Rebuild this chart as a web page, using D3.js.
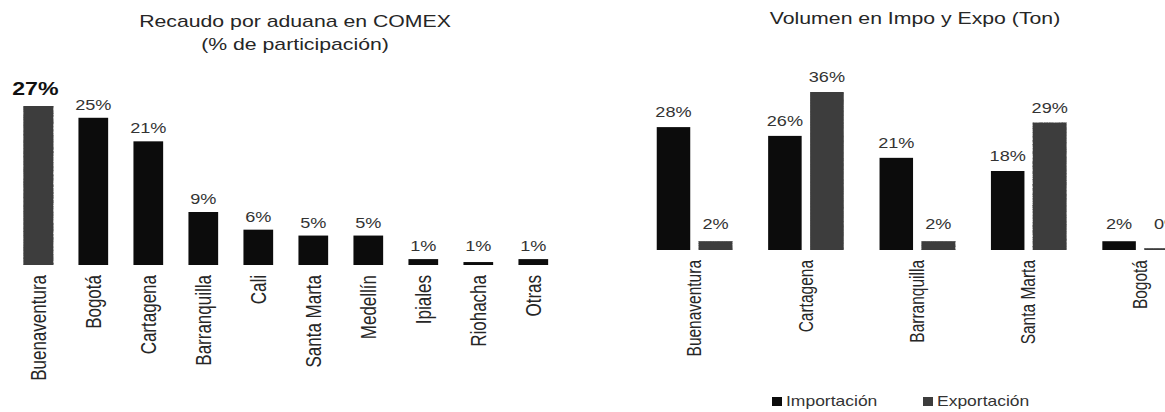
<!DOCTYPE html>
<html><head><meta charset="utf-8">
<script src="https://cdn.jsdelivr.net/npm/d3@7"></script>
<style>
html,body{margin:0;padding:0;background:#fff;}
svg{display:block;font-family:"Liberation Sans",Arial,sans-serif;}
</style></head>
<body>
<svg id="chart" width="1165" height="412"></svg>
<script>
// ---- data ----
const leftTitle = ["Recaudo por aduana en COMEX", "(% de participación)"];
const leftCategories = ["Buenaventura","Bogotá","Cartagena","Barranquilla","Cali","Santa Marta","Medellín","Ipiales","Riohacha","Otras"];
const leftValues = [27, 25, 21, 9, 6, 5, 5, 1, 0.5, 1];

const rightTitle = "Volumen en Impo y Expo (Ton)";
const rightCategories = ["Buenaventura","Cartagena","Barranquilla","Santa Marta","Bogotá"];
const seriesNames = ["Importación","Exportación"];
const importValues = [28, 26, 21, 18, 2];
const exportValues = [2, 36, 2, 29, 0.4];

// ---- setup ----
const svg = d3.select("#chart");
const SX = 1.25; // horizontal stretch of the source picture
const black = "#0c0c0c", gray = "#3c3c3c", textCol = "#262626";
const pct = v => Math.round(v) + "%";

// texture for gray bars
const defs = svg.append("defs");
const f = defs.append("filter").attr("id","grain").attr("x",0).attr("y",0).attr("width",1).attr("height",1);
f.append("feTurbulence").attr("type","fractalNoise").attr("baseFrequency",0.9).attr("numOctaves",2).attr("seed",3).attr("result","n");
f.append("feColorMatrix").attr("in","n").attr("type","matrix")
  .attr("values","0 0 0 0 0.24  0 0 0 0 0.24  0 0 0 0 0.24  0 0 0 -1.2 1.2").attr("result","g");
f.append("feComposite").attr("in","SourceGraphic").attr("in2","g").attr("operator","over");

function hText(g, x, y, txt, size, opts={}) {
  return g.append("text")
    .attr("transform", `translate(${x},${y}) scale(${SX},1)`)
    .attr("text-anchor", opts.anchor || "middle")
    .attr("font-size", size)
    .attr("font-weight", opts.weight || "normal")
    .attr("fill", opts.fill || textCol)
    .text(txt);
}
function vText(g, x, y, txt, size) {
  return g.append("text")
    .attr("transform", `translate(${x},${y}) scale(${SX},1) rotate(-90)`)
    .attr("text-anchor","end")
    .attr("dy","0.35em")
    .attr("font-size", size)
    .attr("fill", textCol)
    .text(txt);
}

// ---- left chart ----
const gl = svg.append("g");
const xL = d3.scaleBand().domain(leftCategories).range([10.8, 560.8]).paddingInner(0.46).paddingOuter(0.23);
const yL = d3.scaleLinear().domain([0, 27]).range([265, 106]);

hText(gl, 295, 27, leftTitle[0], 17);
hText(gl, 295, 50, leftTitle[1], 17);

leftCategories.forEach((c, i) => {
  const v = leftValues[i];
  gl.append("rect")
    .attr("x", xL(c)).attr("width", xL.bandwidth())
    .attr("y", yL(v)).attr("height", yL(0) - yL(v))
    .attr("fill", i === 0 ? gray : black)
    .attr("filter", i === 0 ? "url(#grain)" : null);
  const cx = xL(c) + xL.bandwidth() / 2;
  if (i === 0) {
    hText(gl, cx - 3, yL(v) - 11, pct(v), 18.5, {weight: "bold", fill: "#111"});
  } else {
    hText(gl, cx, yL(Math.max(v, 1)) - 8, pct(v), 14.5, {fill: "#333"});
  }
  vText(gl, cx, 275, c, 17);
});

// ---- right chart ----
const gr = svg.append("g");
const x0 = d3.scaleBand().domain(rightCategories).range([638.8, 1195.8]).paddingInner(0.322).paddingOuter(0.161);
const x1 = d3.scaleBand().domain(seriesNames).range([0, x0.bandwidth()]).paddingInner(0.2024);
const yR = d3.scaleLinear().domain([0, 36]).range([250, 92]);

hText(gr, 915, 24, rightTitle, 17);

rightCategories.forEach((c, i) => {
  const vals = [importValues[i], exportValues[i]];
  seriesNames.forEach((s, j) => {
    const v = vals[j];
    const bx = x0(c) + x1(s);
    gr.append("rect")
      .attr("x", bx).attr("width", x1.bandwidth())
      .attr("y", yR(v)).attr("height", yR(0) - yR(v))
      .attr("fill", j === 0 ? black : gray)
      .attr("filter", j === 1 ? "url(#grain)" : null);
    hText(gr, bx + x1.bandwidth() / 2 + (i === 4 && j === 1 ? 6 : 0), yR(Math.max(v, 2.5)) - 10, pct(v), 14.5, {fill: "#333"});
  });
  vText(gr, x0(c) + x0.bandwidth() / 2, 260, c, 15.5);
});

// legend
const legend = [{name: seriesNames[0], x: 772, col: black}, {name: seriesNames[1], x: 923, col: gray}];
legend.forEach(d => {
  gr.append("rect").attr("x", d.x).attr("y", 397).attr("width", 10).attr("height", 9).attr("fill", d.col);
  hText(gr, d.x + 14, 406, d.name, 14, {anchor: "start", fill: "#333"});
});
</script>
</body></html>
